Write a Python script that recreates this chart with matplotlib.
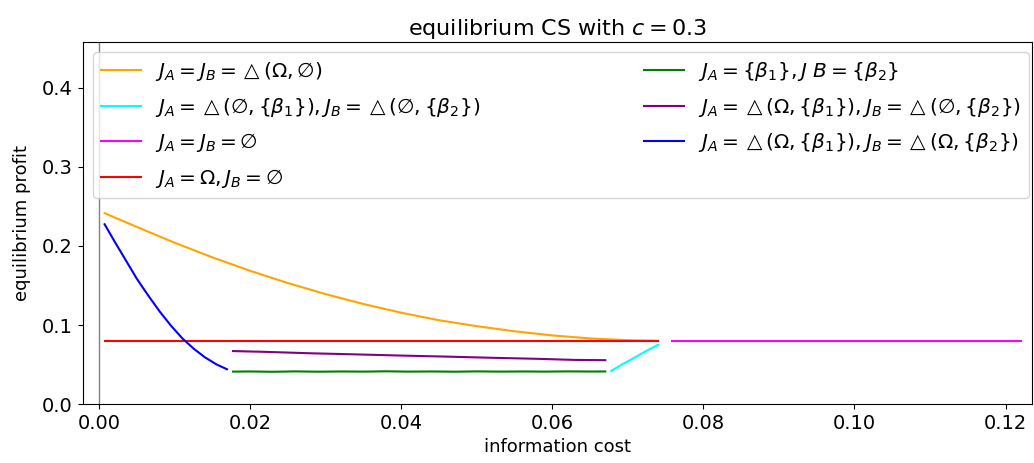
import numpy as np
import matplotlib
matplotlib.use("Agg")
import matplotlib.pyplot as plt

# Data
x_orange = [0.0007, 0.0050, 0.0100, 0.0150, 0.0200, 0.0250, 0.0300, 0.0350, 0.0400,
            0.0450, 0.0500, 0.0550, 0.0600, 0.0650, 0.0700, 0.0740]
y_orange = [0.2415, 0.2240, 0.2040, 0.1855, 0.1685, 0.1530, 0.1390, 0.1265, 0.1155,
            0.1060, 0.0985, 0.0920, 0.0868, 0.0830, 0.0808, 0.0800]

x_blue = [0.0007, 0.0020, 0.0035, 0.0050, 0.0065, 0.0080, 0.0095, 0.0110, 0.0125,
          0.0140, 0.0155, 0.0169]
y_blue = [0.2275, 0.2060, 0.1820, 0.1580, 0.1370, 0.1170, 0.0990, 0.0830, 0.0700,
          0.0590, 0.0502, 0.0440]

x_red = [0.0007, 0.0740]
y_red = [0.0800, 0.0800]

x_purple = [0.0177, 0.0220, 0.0280, 0.0340, 0.0400, 0.0460, 0.0520, 0.0580, 0.0630, 0.0670]
y_purple = [0.0670, 0.0660, 0.0642, 0.0628, 0.0613, 0.0600, 0.0585, 0.0572, 0.0558, 0.0555]

x_green = [0.0177, 0.0200, 0.0230, 0.0260, 0.0290, 0.0320, 0.0350, 0.0380, 0.0410, 0.0440,
           0.0470, 0.0500, 0.0530, 0.0560, 0.0590, 0.0620, 0.0650, 0.0670]
y_green = [0.0410, 0.0412, 0.0408, 0.0413, 0.0409, 0.0412, 0.0410, 0.0414, 0.0410, 0.0412,
           0.0409, 0.0413, 0.0410, 0.0412, 0.0410, 0.0413, 0.0411, 0.0412]

x_cyan = [0.0678, 0.0692, 0.0707, 0.0722, 0.0740]
y_cyan = [0.0420, 0.0500, 0.0578, 0.0660, 0.0750]

x_magenta = [0.0758, 0.1220]
y_magenta = [0.0800, 0.0800]

labels = [
    r'$J_A = J_B = \triangle(\Omega, \emptyset)$',
    r'$J_A = \triangle(\emptyset, \{\beta_1\}), J_B = \triangle(\emptyset, \{\beta_2\})$',
    r'$J_A = J_B = \emptyset$',
    r'$J_A = \Omega, J_B = \emptyset$',
    r'$J_A = \{\beta_1\}, J\ B = \{\beta_2\}$',
    r'$J_A = \triangle(\Omega, \{\beta_1\}), J_B = \triangle(\emptyset, \{\beta_2\})$',
    r'$J_A = \triangle(\Omega, \{\beta_1\}), J_B = \triangle(\Omega, \{\beta_2\})$',
]

fig = plt.figure(figsize=(10.34, 4.63), dpi=100)
ax = fig.add_axes([0.080, 0.1274, 0.918, 0.7816])

ax.axvline(0, color='gray', lw=1)
ax.plot(x_orange, y_orange, color='orange', label=labels[0])
ax.plot(x_cyan, y_cyan, color='cyan', label=labels[1])
ax.plot(x_magenta, y_magenta, color='magenta', label=labels[2])
ax.plot(x_red, y_red, color='red', label=labels[3])
ax.plot(x_green, y_green, color='green', label=labels[4])
ax.plot(x_purple, y_purple, color='purple', label=labels[5])
ax.plot(x_blue, y_blue, color='blue', label=labels[6])

ax.set_xlim(-0.0022, 0.1235)
ax.set_ylim(0, 0.458)
ax.set_yticks([0.0, 0.1, 0.2, 0.3, 0.4])
ax.set_xlabel('information cost', fontsize=13)
ax.set_ylabel('equilibrium profit', fontsize=13, labelpad=8)
ax.set_title(r'equilibrium CS with $c = 0.3$', fontsize=16, pad=5)
ax.tick_params(labelsize=14)

ax.legend(loc='upper left', ncol=2, mode='expand', fontsize=14.5,
          labelspacing=0.62, handletextpad=0.7,
          bbox_to_anchor=(0.0, 0.0, 1.008, 1.0))

fig.savefig('out.png', dpi=100)
